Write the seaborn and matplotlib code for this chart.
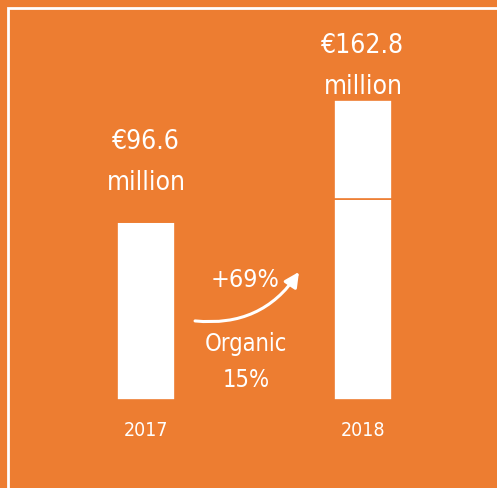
import matplotlib
matplotlib.use('Agg')
import matplotlib.pyplot as plt
import matplotlib.patches as patches
import pandas as pd
import seaborn as sns

years = ['2017', '2018']
base_values = [96.6, 109.3]      # 2017 total, 2018 organic part
acquired_values = [0.0, 53.5]    # 2018 part added on top
totals = ['€96.6\nmillion', '€162.8\nmillion']
growth_label = '+69%'
organic_label = 'Organic\n15%'

ORANGE = '#ED7D31'
WHITE = 'white'

sns.set_theme(style='white')
plt.rcParams['font.family'] = ['DejaVu Sans']
plt.rcParams['font.stretch'] = 'condensed'

df = pd.DataFrame({'year': years, 'base': base_values, 'acquired': acquired_values})

fig = plt.figure(figsize=(4.97, 4.88), dpi=100)
fig.patch.set_facecolor(ORANGE)
ax = fig.add_axes([0, 88 / 488, 1, 400 / 488])
ax.set_facecolor(ORANGE)

sns.barplot(data=df, x='year', y='base', color=WHITE, saturation=1, width=0.267,
            edgecolor=ORANGE, linewidth=1.2, ax=ax)
ax.bar(df['year'], df['acquired'], bottom=df['base'], width=0.267, color=WHITE,
       edgecolor=ORANGE, linewidth=1.2)

ax.set_xlim(-146 / 217, (497 - 146) / 217)
ax.set_ylim(0, 400 / 1.843)
ax.set_xlabel('')
ax.set_ylabel('')
ax.set_yticks([])
ax.tick_params(axis='x', length=0, pad=15, labelsize=14, labelcolor=WHITE)
sns.despine(ax=ax, left=True, bottom=True)

# value labels above each bar
tops = df['base'] + df['acquired']
offsets = [32, 18]
for i, (top, lbl) in enumerate(zip(tops, totals)):
    ax.text(i, top + offsets[i], lbl, ha='center', va='center', color=WHITE,
            fontsize=19, linespacing=1.75)

# growth arrow between the bars
ax.annotate('', xy=(0.705, 69.5), xytext=(0.226, 42.9),
            arrowprops=dict(arrowstyle='-|>', color=WHITE, lw=2.2,
                            mutation_scale=22, shrinkA=0, shrinkB=0,
                            connectionstyle='arc3,rad=0.3'))
ax.text(0.456, 65, growth_label, ha='center', va='center', color=WHITE, fontsize=18)
ax.text(0.46, 20.5, organic_label, ha='center', va='center', color=WHITE,
        fontsize=17, linespacing=1.65)

# white frame running off the right and bottom edges
fig.patches.append(patches.Rectangle((7.5 / 497, -0.1), 1.1, 1.1 - 8.5 / 488,
                                     transform=fig.transFigure, fill=False,
                                     edgecolor=WHITE, linewidth=2.0))

fig.savefig('out.png', dpi=100, facecolor=ORANGE)
